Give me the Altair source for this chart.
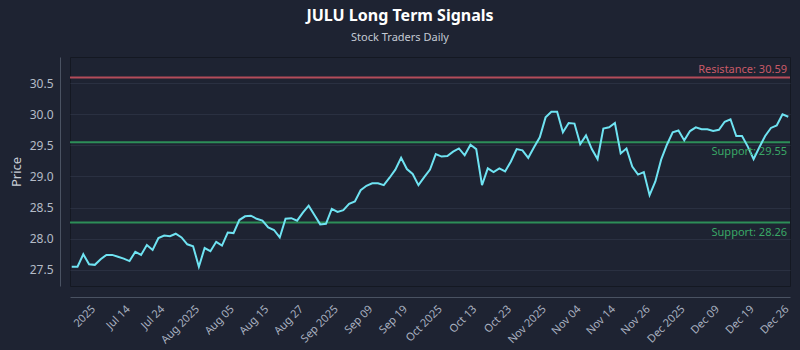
import altair as alt
import pandas as pd

prices = [
    27.55, 27.55, 27.75, 27.59, 27.58, 27.67, 27.74, 27.74, 27.71, 27.68,
    27.64, 27.79, 27.74, 27.90, 27.82, 28.01, 28.05, 28.04, 28.08, 28.02,
    27.91, 27.88, 27.55, 27.85, 27.80, 27.95, 27.89, 28.10, 28.09, 28.30,
    28.36, 28.37, 28.32, 28.29, 28.18, 28.14, 28.02, 28.32, 28.33, 28.29,
    28.42, 28.53,
    28.38, 28.23, 28.24, 28.48, 28.43, 28.46, 28.56, 28.60, 28.78, 28.85,
    28.89, 28.89, 28.86, 28.98, 29.11, 29.30, 29.12, 29.04, 28.86, 28.99,
    29.11, 29.36, 29.32, 29.33, 29.40, 29.45, 29.34, 29.51, 29.44, 28.86,
    29.13, 29.07, 29.13, 29.08, 29.24, 29.44, 29.42, 29.30, 29.47,
    29.63, 29.95, 30.04, 30.04, 29.71, 29.86, 29.85, 29.52, 29.66, 29.44,
    29.28, 29.77, 29.79, 29.86, 29.37, 29.45, 29.16, 29.03, 29.07, 28.70,
    28.92, 29.27, 29.51, 29.71, 29.74, 29.58, 29.73, 29.79, 29.76, 29.76,
    29.73, 29.75, 29.88, 29.92, 29.65, 29.65, 29.48, 29.28, 29.47, 29.65,
    29.78, 29.82, 30.00, 29.96,
]

tick_labels = [
    "2025", "Jul 14", "Jul 24", "Aug 2025", "Aug 05", "Aug 15", "Aug 27",
    "Sep 2025", "Sep 09", "Sep 19", "Oct 2025", "Oct 13", "Oct 23",
    "Nov 2025", "Nov 04", "Nov 14", "Nov 26", "Dec 2025", "Dec 09",
    "Dec 19", "Dec 26",
]
tick_first = 3
tick_step = 6

y_ticks = [27.5, 28.0, 28.5, 29.0, 29.5, 30.0, 30.5]

level_names = ["Resistance", "Support", "Support"]
level_values = [30.59, 29.55, 28.26]
level_colors = ["#c4505e", "#2f9a5c", "#2f9a5c"]
level_text_colors = ["#c85a68", "#3aa866", "#3aa866"]

FONT = "Noto Sans"
BG = "#1e2332"

df = pd.DataFrame({"idx": list(range(len(prices))), "price": prices})
levels = pd.DataFrame({
    "name": level_names,
    "value": level_values,
    "color": level_colors,
    "tcolor": level_text_colors,
})
levels["label"] = levels["name"] + ": " + levels["value"].map(lambda v: f"{v:.2f}")

tick_vals = [tick_first + tick_step * i for i in range(len(tick_labels))]
label_js = "[" + ",".join(f"'{t}'" for t in tick_labels) + "]"
label_expr = f"{label_js}[round((datum.value - {tick_first}) / {tick_step})]"

x_scale = alt.Scale(domain=[-0.3, len(prices) - 1 + 0.3], nice=False, zero=False)
y_scale = alt.Scale(domain=[27.24, 30.92], nice=False, zero=False)

y_axis = alt.Axis(
    values=y_ticks, format=".1f", labelOverlap=False,
    ticks=False, offset=10, domainColor="#4a5262", labelColor="#b4bbc7",
    labelFontSize=12, labelFont=FONT, labelPadding=7, grid=True,
    gridColor="#2a3041", title="Price", titleFont=FONT, titleFontSize=13,
    titleFontWeight="normal", titleColor="#c8cdd6", titlePadding=6,
)

x_enc = alt.X(
    "idx:Q", scale=x_scale,
    axis=alt.Axis(
        values=tick_vals, labelExpr=label_expr, labelAngle=-45, grid=False,
        ticks=False, offset=11, domainColor="#4a5262", labelColor="#a9b1c0",
        labelFontSize=11, labelFont=FONT, labelPadding=6, title=None,
        labelOverlap=False, labelBound=False, labelFlush=False,
    ),
)

line = alt.Chart(df).mark_line(color="#6fe3f2", strokeWidth=2).encode(
    x=x_enc, y=alt.Y("price:Q", scale=y_scale, axis=y_axis)
)

rules = alt.Chart(levels).mark_rule(strokeWidth=2, opacity=0.9).encode(
    y=alt.Y("value:Q", scale=y_scale, axis=y_axis),
    color=alt.Color("color:N", scale=None),
)

above = alt.Chart(levels[levels["name"] == "Resistance"]).mark_text(
    align="right", baseline="bottom", dy=-3, fontSize=11, font=FONT
).encode(
    x=alt.value(717), y=alt.Y("value:Q", scale=y_scale, axis=y_axis),
    text="label:N", color=alt.Color("tcolor:N", scale=None),
)
below = alt.Chart(levels[levels["name"] == "Support"]).mark_text(
    align="right", baseline="top", dy=4, fontSize=11, font=FONT
).encode(
    x=alt.value(717), y=alt.Y("value:Q", scale=y_scale, axis=y_axis),
    text="label:N", color=alt.Color("tcolor:N", scale=None),
)

chart = alt.layer(rules, line, above, below).properties(
    width=720, height=229,
    autosize=alt.AutoSizeParams(type="none"),
    padding={"left": 70, "top": 57, "right": 10, "bottom": 64},
    background=BG,
    title=alt.TitleParams(
        text="JULU Long Term Signals", subtitle="Stock Traders Daily",
        anchor="middle", dx=-30, font=FONT, fontSize=16, fontWeight="bold",
        color="#ffffff", subtitleFont=FONT, subtitleFontSize=11,
        subtitleColor="#c4cad4", offset=14, subtitlePadding=8,
    ),
).configure_view(stroke="#141822", strokeWidth=1).configure_axis(domainWidth=1)

chart.save("out.html", embed_options={"renderer": "svg", "actions": False})
